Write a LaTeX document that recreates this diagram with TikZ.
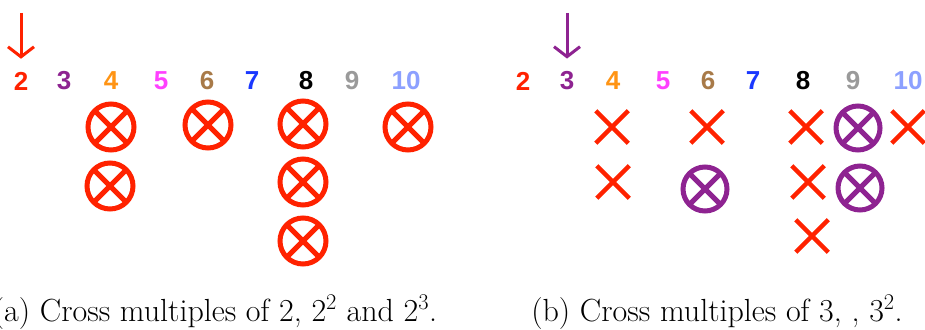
\documentclass[tikz,border=0pt]{standalone}
\usepackage{fix-cm}
\usepackage{fontspec}
\usepackage{tikz}
\usetikzlibrary{arrows.meta,shapes.misc}
\newfontfamily\digitfont{Liberation Sans}
\definecolor{mred}{HTML}{FF2200}
\definecolor{mpurple}{HTML}{8E2391}
\definecolor{morange}{HTML}{FF9414}
\definecolor{mmagenta}{HTML}{FF40FF}
\definecolor{mbrown}{HTML}{A87A48}
\definecolor{mblue}{HTML}{1A38FF}
\definecolor{mgray}{HTML}{9A9A9A}
\definecolor{mlight}{HTML}{8CA0FF}
\tikzset{
  numlabel/.style={font=\digitfont\bfseries\fontsize{26}{30}\selectfont, inner sep=0pt},
  ringmark/.style={circle, draw=#1, line width=5pt, minimum size=46pt, inner sep=0pt,
    path picture={\draw[#1, line width=5pt]
      (path picture bounding box.north west) -- (path picture bounding box.south east)
      (path picture bounding box.north east) -- (path picture bounding box.south west);}},
  crossmark/.style={cross out, draw=mred, line width=4.5pt, minimum size=28pt, inner sep=0pt},
  pointer/.style={-{Straight Barb[length=10pt,width=26pt]}, line width=3pt, shorten >=13pt},
  captext/.style={font=\fontsize{32}{36}\selectfont, inner sep=0pt}
}
\begin{document}
\begin{tikzpicture}[x=1pt, y=-1pt]
  \useasboundingbox (0,0) rectangle (925,329);

  % left panel: numbers
  \foreach \n/\x/\c in {2/21/mred, 3/64/mpurple, 4/111/morange, 5/161/mmagenta,
      6/207/mbrown, 7/252/mblue, 8/306/black, 9/352/mgray, 10/406/mlight}
    \node[numlabel, text=\c] (a\n) at (\x,81) {\n};
  \coordinate (atop) at (21,13);
  \draw[pointer, mred] (atop) -- (a2.north);

  % left panel: multiples of 2, 4, 8
  \node[ringmark=mred] (a4x) at (111,127) {};
  \node[ringmark=mred] (a4y) at (110,186) {};
  \node[ringmark=mred] (a6x) at (208,125) {};
  \node[ringmark=mred] (a8x) at (303,124) {};
  \node[ringmark=mred] (a8y) at (303,182) {};
  \node[ringmark=mred] (a8z) at (303,241) {};
  \node[ringmark=mred] (a10x) at (408,127) {};

  % right panel: numbers
  \foreach \n/\x/\c in {2/523/mred, 3/567/mpurple, 4/613/morange, 5/663/mmagenta,
      6/708/mbrown, 7/753/mblue, 8/803/black, 9/853/mgray, 10/908/mlight}
    \node[numlabel, text=\c] (b\n) at (\x,81) {\n};
  \coordinate (btop) at (567,13);
  \draw[pointer, mpurple] (btop) -- (b3.north);

  % right panel: earlier crosses and multiples of 3, 9
  \node[crossmark] (b4x) at (612,127) {};
  \node[crossmark] (b4y) at (613,182) {};
  \node[crossmark] (b6x) at (707,127) {};
  \node[ringmark=mpurple, minimum size=44pt] (b6y) at (705,189) {};
  \node[crossmark] (b8x) at (806,127) {};
  \node[crossmark] (b8y) at (808,182) {};
  \node[crossmark] (b8z) at (812,236) {};
  \node[ringmark=mpurple, minimum size=44pt] (b9x) at (858,128) {};
  \node[ringmark=mpurple, minimum size=44pt] (b9y) at (860,188) {};
  \node[crossmark] (b10x) at (908,127) {};

  % captions
  \node[captext] (capa) at (215,312) {(a) Cross multiples of 2, $2^2$ and $2^3$.};
  \node[captext] (capb) at (717,312) {(b) Cross multiples of 3, , $3^2$.};
\end{tikzpicture}
\end{document}
